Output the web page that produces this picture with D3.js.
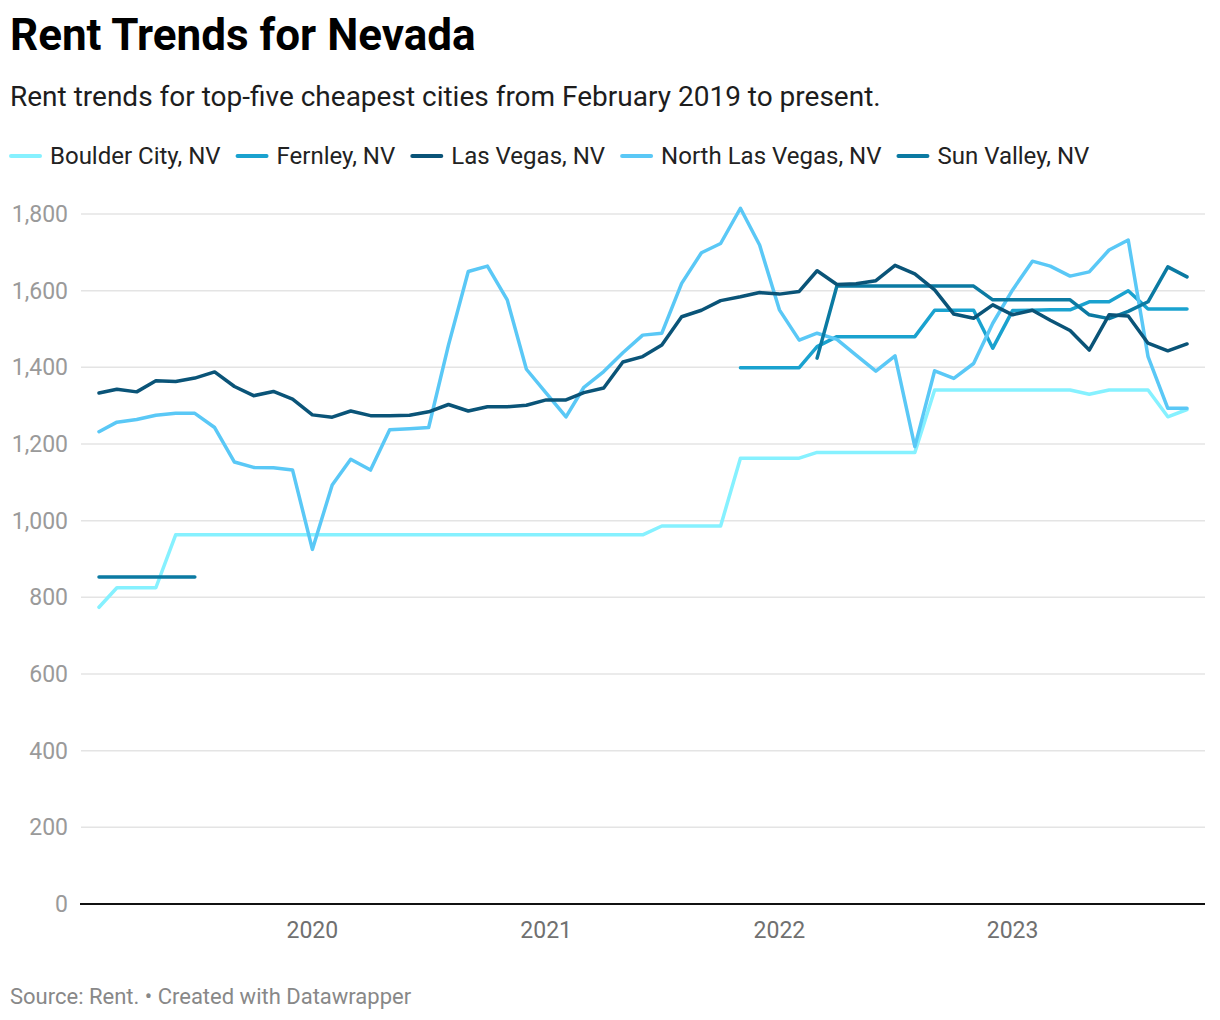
<!DOCTYPE html>
<html>
<head>
<meta charset="utf-8">
<script src="https://cdn.jsdelivr.net/npm/d3@7"></script>
<style>
  body { margin: 0; background: #fff; font-family: Roboto, "Noto Sans", sans-serif; }
</style>
</head>
<body>
<svg id="chart" width="1220" height="1020"></svg>
<script>
// monthly data, Feb 2019 .. Oct 2023
const months = d3.timeMonth.range(new Date(2019, 1, 1), new Date(2023, 10, 1));

const boulderCity = [774, 825, 825, 825, 963, 963, 963, 963, 963, 963, 963, 963, 963, 963, 963, 963, 963, 963, 963, 963,
  963, 963, 963, 963, 963, 963, 963, 963, 963, 986, 986, 986, 986, 1163, 1163, 1163, 1163, 1178, 1178, 1178,
  1178, 1178, 1178, 1341, 1341, 1341, 1341, 1341, 1341, 1341, 1341, 1330, 1341, 1341, 1341, 1271, 1290];

const fernley = [null, null, null, null, null, null, null, null, null, null, null, null, null, null, null, null, null, null, null, null,
  null, null, null, null, null, null, null, null, null, null, null, null, null, 1399, 1399, 1399, 1399, 1454, 1480, 1480,
  1480, 1480, 1480, 1549, 1549, 1549, 1450, 1548, 1549, 1550, 1550, 1571, 1571, 1600, 1552, 1552, 1552];

const lasVegas = [1333, 1343, 1336, 1365, 1363, 1372, 1388, 1350, 1326, 1337, 1317, 1276, 1270, 1286, 1274, 1274, 1275, 1284, 1303, 1286,
  1297, 1297, 1301, 1315, 1315, 1334, 1346, 1414, 1428, 1458, 1532, 1549, 1574, 1584, 1595, 1591, 1598, 1652, 1616, 1618,
  1626, 1666, 1644, 1602, 1539, 1528, 1563, 1537, 1549, 1523, 1496, 1445, 1537, 1534, 1463, 1443, 1461];

const northLasVegas = [1232, 1257, 1264, 1275, 1280, 1280, 1243, 1153, 1139, 1138, 1132, 925, 1093, 1160, 1132, 1237, 1240, 1243, 1458, 1650,
  1664, 1576, 1395, 1333, 1271, 1348, 1389, 1438, 1484, 1489, 1619, 1699, 1723, 1815, 1719, 1550, 1471, 1489, 1473, 1432,
  1390, 1430, 1193, 1391, 1371, 1410, 1515, 1602, 1677, 1664, 1638, 1649, 1706, 1732, 1428, 1293, 1293];

const sunValley = [853, 853, 853, 853, 853, 853, null, null, null, null, null, null, null, null, null, null, null, null, null, null,
  null, null, null, null, null, null, null, null, null, null, null, null, null, null, null, null, null, 1424, 1612, 1612,
  1612, 1612, 1612, 1612, 1612, 1612, 1576, 1576, 1576, 1576, 1576, 1537, 1527, 1546, 1571, 1662, 1636];

const seriesNames = ["Boulder City, NV", "Fernley, NV", "Las Vegas, NV", "North Las Vegas, NV", "Sun Valley, NV"];
const seriesValues = [boulderCity, fernley, lasVegas, northLasVegas, sunValley];
const colors = ["#86f1ff", "#1aa2cf", "#0a5478", "#5ac8f6", "#0b7aa2"];

const yTicks = [0, 200, 400, 600, 800, 1000, 1200, 1400, 1600, 1800];
const xTicks = [new Date(2020, 0, 1), new Date(2021, 0, 1), new Date(2022, 0, 1), new Date(2023, 0, 1)];

const svg = d3.select("#chart");
const left = 81, right = 1205;

const x = d3.scaleTime().domain([months[0], months[months.length - 1]]).range([99, 1187]);
const y = d3.scaleLinear().domain([0, 1800]).range([904, 214]);

// title
svg.append("text").attr("x", 10).attr("y", 50)
  .style("font-size", "44px").style("font-weight", 700).style("fill", "#000")
  .text("Rent Trends for Nevada");
svg.append("text").attr("x", 10).attr("y", 106)
  .style("font-size", "28px").style("fill", "#1d1d1d")
  .text("Rent trends for top-five cheapest cities from February 2019 to present.");

// legend
const legend = svg.append("g");
let lx = 10;
seriesNames.forEach(function (name, i) {
  legend.append("line")
    .attr("x1", lx + 1).attr("x2", lx + 30).attr("y1", 156).attr("y2", 156)
    .attr("stroke", colors[i]).attr("stroke-width", 4).attr("stroke-linecap", "round");
  const t = legend.append("text").attr("x", lx + 40).attr("y", 164)
    .style("font-size", "24px").style("fill", "#222")
    .text(name);
  lx += 40 + t.node().getComputedTextLength() + 16;
});

// grid + y labels
svg.append("g").selectAll("line").data(yTicks.filter(d => d > 0)).enter().append("line")
  .attr("x1", left).attr("x2", right)
  .attr("y1", d => y(d)).attr("y2", d => y(d))
  .attr("stroke", "#e4e4e4").attr("stroke-width", 1.5);

svg.append("g").selectAll("text").data(yTicks).enter().append("text")
  .attr("x", 68).attr("y", d => y(d) + 8)
  .attr("text-anchor", "end")
  .style("font-size", "23px").style("fill", "#9a9a9a")
  .text(d => d3.format(",")(d));

// x labels
svg.append("g").selectAll("text").data(xTicks).enter().append("text")
  .attr("x", d => x(d)).attr("y", 938)
  .attr("text-anchor", "middle")
  .style("font-size", "23px").style("fill", "#707070")
  .text(d => d3.timeFormat("%Y")(d));

// lines
const line = d3.line()
  .defined(d => d.v != null)
  .x(d => x(d.date))
  .y(d => y(d.v));

const drawOrder = [0, 1, 3, 4, 2];
drawOrder.forEach(function (i) {
  const pts = months.map((m, j) => ({ date: m, v: seriesValues[i][j] }));
  svg.append("path")
    .datum(pts)
    .attr("d", line)
    .attr("fill", "none")
    .attr("stroke", colors[i])
    .attr("stroke-width", 3.5)
    .attr("stroke-linejoin", "round")
    .attr("stroke-linecap", "round");
});

// baseline
svg.append("line").attr("x1", left - 1).attr("x2", right)
  .attr("y1", 904).attr("y2", 904)
  .attr("stroke", "#111").attr("stroke-width", 2);

// footer
svg.append("text").attr("x", 10).attr("y", 1004)
  .style("font-size", "22px").style("fill", "#888")
  .text("Source: Rent. • Created with Datawrapper");
</script>
</body>
</html>
